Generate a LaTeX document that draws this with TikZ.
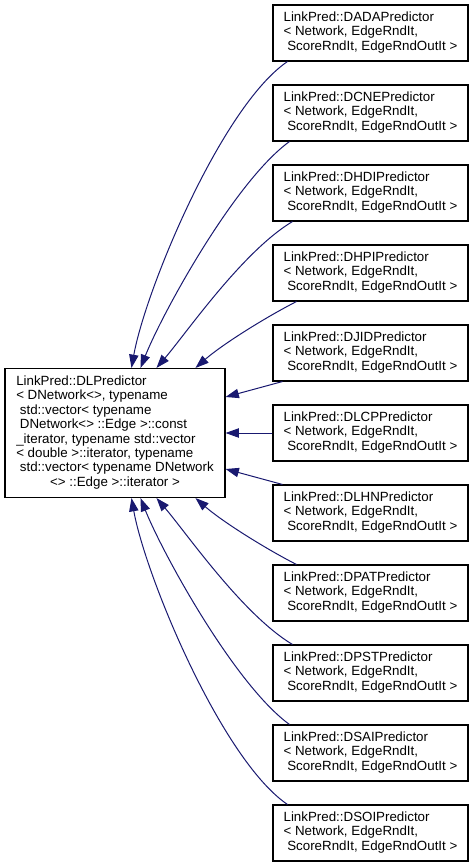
\documentclass[tikz,border=0pt]{standalone}
\usepackage{fontspec}
\setmainfont{Liberation Sans}
\usetikzlibrary{arrows.meta,calc}
\definecolor{edgeblue}{HTML}{191970}
\tikzset{
  cls/.style={draw=black, line width=0.8pt, fill=white, inner sep=0pt,
    minimum width=146.25pt, minimum height=42pt,
    font=\fontsize{10pt}{10.8pt}\selectfont},
  basecls/.style={cls, minimum width=165pt, minimum height=96.75pt},
  inh/.style={draw=edgeblue, line width=0.75pt, -{Triangle[length=10pt,width=7pt]}},
}
\newcommand{\predlabel}[1]{\begin{tabular}{@{}l@{}}LinkPred::#1\\< Network, EdgeRndIt,\\\multicolumn{1}{@{}c@{}}{\ ScoreRndIt, EdgeRndOutIt >}\end{tabular}}
\begin{document}
\begin{tikzpicture}[x=0.75pt,y=-0.75pt]
\useasboundingbox (0,0) rectangle (473,867);
\node[basecls] (dl) at (115,433) {\begin{tabular}{@{}l@{}}LinkPred::DLPredictor\\< DNetwork<>, typename\\\ std::vector< typename\\\ DNetwork<> ::Edge >::const\\\_iterator, typename std::vector\\< double >::iterator, typename\\\ std::vector< typename DNetwork\\\multicolumn{1}{@{}c@{}}{<> ::Edge >::iterator >}\end{tabular}};
\foreach \n/\t [count=\i from 0] in {dada/DADA,dcne/DCNE,dhdi/DHDI,dhpi/DHPI,djid/DJID,dlcp/DLCP,dlhn/DLHN,dpat/DPAT,dpst/DPST,dsai/DSAI,dsoi/DSOI}
  \node[cls] (\n) at (370.5,33+80*\i) {\predlabel{\t Predictor}};
% upper curves
\draw[inh] ($(dada.south west)+(15,0)$) .. controls +(-66,45) and +(14,-78) .. ($(dl.north west)+(127,0)$);
\draw[inh] ($(dcne.south west)+(17,0)$) .. controls +(-55,40) and +(22,-55) .. ($(dl.north west)+(136,0)$);
\draw[inh] ($(dhdi.south west)+(20,0)$) .. controls +(-50,30) and +(30,-35) .. ($(dl.north west)+(152,0)$);
\draw[inh] ($(dhpi.south west)+(24,0)$) .. controls +(-35,18) and +(25,-22) .. ($(dl.north west)+(191,0)$);
% side edges
\draw[inh] ($(djid.south west)+(10,0)$) -- ($(dl.east)+(0,-36)$);
\draw[inh] (dlcp.west) -- (dl.east);
\draw[inh] ($(dlhn.north west)+(10,0)$) -- ($(dl.east)+(0,36)$);
% lower curves
\draw[inh] ($(dpat.north west)+(24,0)$) .. controls +(-35,-18) and +(25,22) .. ($(dl.south west)+(191,0)$);
\draw[inh] ($(dpst.north west)+(20,0)$) .. controls +(-50,-30) and +(30,35) .. ($(dl.south west)+(152,0)$);
\draw[inh] ($(dsai.north west)+(17,0)$) .. controls +(-55,-40) and +(22,55) .. ($(dl.south west)+(136,0)$);
\draw[inh] ($(dsoi.north west)+(15,0)$) .. controls +(-66,-45) and +(14,78) .. ($(dl.south west)+(127,0)$);
\end{tikzpicture}
\end{document}
